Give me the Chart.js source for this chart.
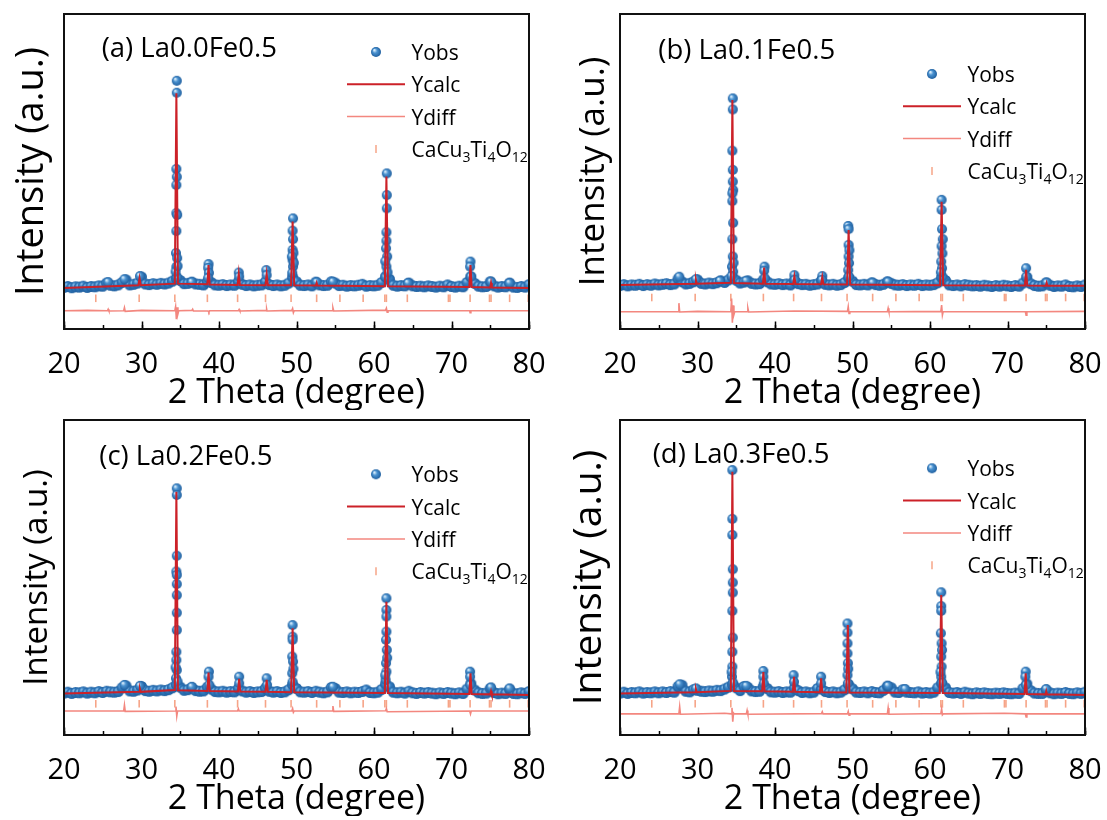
<!DOCTYPE html>
<html>
<head>
<meta charset="utf-8">
<script src="https://cdn.jsdelivr.net/npm/chart.js@4.4.0/dist/chart.umd.min.js"></script>
<style>
  body { margin: 0; background: #fff; width: 1107px; height: 820px; position: relative; overflow: hidden; }
  canvas { position: absolute; }
</style>
</head>
<body>
<canvas id="pa" width="553" height="410" style="left:0;top:0"></canvas>
<canvas id="pb" width="554" height="410" style="left:553px;top:0"></canvas>
<canvas id="pc" width="553" height="410" style="left:0;top:406px"></canvas>
<canvas id="pd" width="554" height="410" style="left:553px;top:406px"></canvas>
<script>
// 2-theta sampling grid of the background points (0.5 deg steps, 20..80)
const baseAngles = [];
for (let i = 0; i <= 120; i++) baseAngles.push(20 + i * 0.5);

// CaCu3Ti4O12 reflection positions (2 theta)
const braggPos = [24.1, 29.7, 34.3, 38.5, 42.4, 46.0, 49.3, 52.6, 55.6, 58.6, 61.4, 61.6,
                  64.3, 69.6, 69.8, 72.4, 74.9, 75.1, 77.5, 79.9];

// ---- (a) La0.0Fe0.5 ----
const obsBaseA = [
  13.2, 13.5, 13.1, 13.4, 13.3, 13.6, 13.2, 13.5, 13.4, 13.7,
  13.6, 14.6, 13.9, 13.7, 14.0, 14.8, 15.6, 14.0, 14.2, 14.6,
  16.5, 14.3, 14.1, 14.4, 14.2, 14.5, 14.3, 14.6, 15.2, 16.0,
  15.4, 14.4, 14.5, 14.9, 14.3, 14.2, 14.0, 15.0, 14.8, 14.0,
  13.9, 14.1, 13.8, 14.0, 13.9, 15.0, 14.2, 13.8, 14.0, 13.7,
  13.9, 14.0, 15.0, 14.1, 13.8, 14.0, 13.7, 13.9, 14.6, 16.5,
  15.0, 13.9, 13.8, 14.0, 13.7, 14.9, 14.0, 13.8, 13.9, 15.0,
  14.6, 13.8, 13.9, 13.6, 13.8, 13.7, 13.9, 14.2, 13.6, 13.8,
  13.7, 13.9, 14.8, 16.6, 15.8, 13.9, 13.6, 13.8, 13.7, 14.6,
  13.7, 13.5, 13.6, 13.4, 13.7, 13.5, 13.3, 13.6, 13.4, 14.0,
  13.5, 13.3, 13.6, 13.4, 14.8, 16.6, 14.5, 13.6, 13.4, 13.5,
  15.0, 13.7, 13.3, 13.5, 13.4, 14.6, 13.3, 13.2, 13.5, 13.3,
  14.1
];
const obsPeakA = [
  [34.55, 78.8], [34.55, 75.0], [34.5, 50.8], [34.55, 48.3], [34.5, 45.7], [34.5, 36.8],
  [34.6, 36.2], [34.5, 31.1], [34.45, 24.1], [34.6, 22.5], [34.5, 19.7], [34.6, 16.5],
  [34.4, 18.2], [34.65, 20.0],
  [38.65, 20.6], [38.6, 19.4], [38.7, 17.8], [38.6, 16.2],
  [42.55, 17.9], [42.6, 16.6],
  [46.1, 18.7], [46.15, 17.1],
  [49.55, 35.1], [49.5, 31.2], [49.55, 28.5], [49.5, 25.1], [49.6, 24.1], [49.5, 21.9],
  [49.55, 19.8], [49.45, 17.8], [49.4, 23.0], [49.65, 21.0],
  [61.65, 49.4], [61.65, 42.5], [61.65, 38.3], [61.6, 30.7], [61.6, 28.0], [61.55, 25.6],
  [61.7, 23.0], [61.6, 19.8], [61.5, 16.6], [61.45, 21.5], [61.75, 18.0],
  [72.45, 21.4], [72.4, 19.8], [72.5, 16.6],
  [27.8, 15.8], [29.8, 16.8], [25.7, 14.9], [36.5, 14.9], [52.6, 14.9], [54.7, 15.0],
  [64.4, 14.6], [75.1, 15.0], [77.5, 14.6]
];
const calcA = [
  [20, 13.0], [29.6, 13.9], [29.75, 16.1], [29.9, 13.9], [34.3, 14.4], [34.5, 74.8], [34.7, 14.4],
  [38.5, 14.2], [38.65, 20.3], [38.8, 14.1], [42.4, 14.0], [42.55, 17.6], [42.7, 14.0],
  [46.0, 13.9], [46.15, 17.4], [46.3, 13.9], [49.3, 13.9], [49.5, 34.1], [49.7, 13.9],
  [52.5, 13.8], [52.6, 14.6], [52.7, 13.8], [61.4, 13.6], [61.6, 48.4], [61.8, 13.6],
  [72.3, 13.3], [72.45, 20.3], [72.6, 13.3], [75.0, 13.2], [75.1, 14.6], [75.2, 13.2], [80, 13.0]
];
const diffA = [
  [20, 5.8], [23, 5.9], [25.6, 5.8], [25.7, 6.3], [25.8, 5.7], [27.7, 5.8], [27.8, 6.8], [27.9, 5.6],
  [30, 5.9], [34.3, 5.8], [34.4, 7.1], [34.5, 3.1], [34.6, 6.9], [34.7, 4.8], [34.8, 5.8],
  [36.5, 5.9], [36.6, 6.3], [36.7, 5.7], [38.6, 5.7], [38.7, 5.3], [38.8, 5.8],
  [42.5, 5.8], [42.6, 6.2], [42.7, 5.7], [46.1, 5.9], [46.15, 6.3], [46.2, 5.7],
  [49.4, 5.9], [49.5, 6.5], [49.6, 5.2], [49.7, 5.8], [54.6, 5.8], [54.7, 6.7], [54.8, 5.7],
  [61.5, 6.0], [61.6, 6.6], [61.7, 5.3], [61.8, 5.8], [72.35, 5.8], [72.4, 5.2], [72.5, 5.8], [80, 5.8]
];

// ---- (b) La0.1Fe0.5 ----
const obsBaseB = [
  13.8, 14.1, 13.7, 14.0, 13.9, 14.2, 13.8, 14.1, 13.9, 14.3,
  14.0, 14.2, 14.4, 14.1, 14.3, 15.9, 15.0, 14.3, 14.5, 15.0,
  15.6, 14.5, 14.3, 14.6, 14.4, 14.7, 15.3, 14.8, 15.6, 16.5,
  15.5, 14.6, 14.9, 15.3, 14.5, 14.3, 14.4, 15.6, 15.0, 14.3,
  14.2, 14.4, 14.1, 14.3, 14.0, 15.4, 14.4, 14.1, 14.2, 13.9,
  14.1, 14.3, 15.4, 14.2, 14.0, 14.2, 13.9, 14.1, 14.8, 16.3,
  15.2, 14.1, 14.0, 14.2, 14.0, 14.7, 14.1, 13.9, 14.2, 15.0,
  14.5, 14.0, 13.9, 14.1, 13.8, 14.0, 13.9, 14.2, 13.8, 14.0,
  13.9, 14.1, 14.7, 16.4, 15.4, 14.0, 13.8, 14.0, 13.7, 14.1,
  13.9, 13.7, 13.8, 13.6, 13.9, 13.7, 13.5, 13.8, 13.6, 13.9,
  13.7, 13.5, 13.8, 13.6, 14.6, 16.4, 14.4, 13.8, 13.6, 13.7,
  14.7, 13.9, 13.5, 13.7, 13.6, 14.0, 13.5, 13.4, 13.7, 13.5,
  14.0
];
const obsPeakB = [
  [34.55, 73.2], [34.55, 69.7], [34.5, 56.6], [34.55, 50.5], [34.55, 46.8], [34.6, 44.1],
  [34.5, 43.1], [34.5, 40.6], [34.6, 33.7], [34.5, 28.5], [34.55, 23.0], [34.45, 19.8], [34.6, 18.2],
  [34.4, 16.8], [34.65, 21.0],
  [38.65, 19.8], [38.6, 18.5], [38.7, 16.1],
  [42.5, 17.1], [42.55, 15.6],
  [46.1, 16.8], [46.05, 15.6],
  [49.45, 32.7], [49.5, 31.7], [49.5, 26.7], [49.5, 23.0], [49.55, 20.9], [49.45, 18.7], [49.55, 16.6],
  [49.6, 25.0],
  [61.5, 41.0], [61.5, 37.8], [61.55, 31.7], [61.5, 26.3], [61.6, 24.0], [61.45, 21.4],
  [61.55, 19.3], [61.6, 16.6], [61.65, 28.5], [61.4, 18.0],
  [72.4, 19.3], [72.45, 16.6],
  [27.65, 16.6], [29.8, 15.8], [32.9, 15.3], [36.3, 15.3], [52.6, 14.7], [54.6, 15.0], [75.05, 14.7]
];
const calcB = [
  [20, 14.0], [29.7, 14.4], [29.8, 15.6], [29.9, 14.4], [34.3, 14.7], [34.5, 72.7], [34.7, 14.6],
  [38.45, 14.4], [38.6, 19.5], [38.75, 14.4], [42.35, 14.3], [42.5, 16.7], [42.65, 14.3],
  [45.95, 14.2], [46.1, 16.5], [46.25, 14.2], [49.3, 14.1], [49.5, 31.4], [49.7, 14.1],
  [61.3, 13.9], [61.5, 40.4], [61.7, 13.9], [72.25, 13.8], [72.4, 18.8], [72.55, 13.8],
  [74.95, 13.7], [75.05, 14.6], [75.15, 13.7], [80, 13.7]
];
const diffB = [
  [20, 5.5], [27.5, 5.5], [27.6, 8.2], [27.7, 5.4], [30, 5.6], [34.3, 5.5], [34.4, 9.7], [34.5, 2.0],
  [34.6, 7.5], [34.7, 4.6], [34.8, 5.5], [36.4, 5.5], [36.5, 6.6], [36.6, 5.4], [42.5, 5.7],
  [49.35, 5.6], [49.45, 7.1], [49.55, 4.9], [49.65, 5.5], [54.5, 5.5], [54.6, 6.6], [54.7, 5.5],
  [61.4, 5.6], [61.5, 7.6], [61.6, 4.4], [61.7, 5.5], [72.3, 5.5], [72.4, 4.4], [72.5, 5.5], [80, 5.6]
];

// ---- (c) La0.2Fe0.5 ----
const obsBaseC = [
  13.3, 13.6, 13.2, 13.5, 13.4, 13.7, 13.3, 13.6, 13.4, 13.8,
  13.5, 13.9, 13.7, 13.6, 13.8, 15.0, 15.6, 14.0, 13.9, 14.3,
  15.4, 14.1, 13.9, 14.2, 14.0, 14.3, 14.1, 14.4, 15.0, 16.0,
  15.2, 14.2, 14.4, 15.0, 14.1, 13.9, 14.0, 15.2, 14.6, 13.8,
  13.7, 13.9, 13.6, 13.8, 13.7, 14.8, 14.0, 13.6, 13.8, 13.5,
  13.7, 13.8, 14.9, 13.9, 13.6, 13.8, 13.5, 13.7, 14.4, 16.0,
  14.8, 13.7, 13.6, 13.8, 13.5, 13.9, 13.6, 13.4, 13.7, 15.1,
  14.8, 13.6, 13.5, 13.7, 13.4, 13.6, 13.5, 13.8, 14.3, 13.5,
  13.4, 13.6, 14.5, 16.2, 15.3, 13.6, 13.4, 13.6, 13.3, 13.9,
  13.4, 13.2, 13.5, 13.3, 13.5, 13.3, 13.1, 13.4, 13.2, 13.5,
  13.3, 13.1, 13.4, 13.2, 14.6, 16.3, 14.3, 13.4, 13.2, 13.3,
  14.8, 13.5, 13.1, 13.3, 13.2, 14.5, 13.2, 13.1, 13.4, 13.2,
  13.8
];
const obsPeakC = [
  [34.55, 78.3], [34.55, 76.2], [34.55, 56.9], [34.5, 51.9], [34.55, 50.8], [34.55, 47.9],
  [34.55, 44.4], [34.55, 38.8], [34.55, 33.3], [34.5, 26.4], [34.5, 23.8], [34.55, 20.6], [34.45, 18.0],
  [34.65, 17.0], [34.4, 21.5],
  [38.7, 20.1], [38.65, 18.5], [38.75, 15.9],
  [42.6, 18.5], [42.6, 16.4],
  [46.15, 18.0], [46.2, 15.9],
  [49.5, 34.9], [49.5, 31.2], [49.5, 30.2], [49.45, 24.9], [49.55, 23.3], [49.45, 19.6], [49.5, 16.9],
  [49.6, 21.0],
  [61.6, 43.4], [61.6, 39.7], [61.6, 37.6], [61.6, 32.8], [61.55, 30.2], [61.65, 27.0],
  [61.55, 22.8], [61.6, 20.1], [61.5, 17.5], [61.7, 24.5], [61.45, 19.0],
  [72.4, 20.1], [72.4, 18.5], [72.45, 15.9],
  [27.8, 15.9], [29.8, 15.6], [36.5, 15.3], [54.7, 15.3], [75.1, 15.1], [77.5, 14.8]
];
const calcC = [
  [20, 13.2], [29.7, 13.7], [29.8, 14.6], [29.9, 13.7], [34.3, 14.3], [34.5, 77.2], [34.7, 14.2],
  [38.5, 14.0], [38.65, 19.8], [38.8, 14.0], [42.45, 13.8], [42.6, 17.8], [42.75, 13.8],
  [46.0, 13.7], [46.15, 17.5], [46.3, 13.7], [49.3, 13.6], [49.5, 33.9], [49.7, 13.6],
  [61.4, 13.3], [61.6, 42.3], [61.8, 13.3], [72.3, 13.0], [72.45, 19.6], [72.6, 13.0],
  [75.0, 12.9], [75.1, 13.9], [75.2, 12.9], [80, 12.7]
];
const diffC = [
  [20, 7.6], [27.7, 7.6], [27.8, 9.5], [27.9, 7.5], [34.35, 7.6], [34.45, 9.0], [34.55, 6.0],
  [34.65, 7.6], [42.4, 7.6], [42.5, 8.3], [42.6, 7.6], [49.4, 7.7], [49.5, 8.4], [49.6, 7.2],
  [49.7, 7.6], [54.6, 7.6], [54.7, 9.2], [54.8, 7.5], [61.5, 7.7], [61.6, 8.4], [61.7, 7.4],
  [72.35, 7.6], [72.45, 6.7], [72.55, 7.6], [80, 7.6]
];

// ---- (d) La0.3Fe0.5 ----
const obsBaseD = [
  13.3, 13.6, 13.2, 13.5, 13.4, 13.7, 13.3, 13.5, 13.4, 13.7,
  13.4, 13.7, 13.5, 13.8, 13.6, 15.4, 15.8, 13.9, 13.7, 14.4,
  14.2, 13.9, 13.8, 14.0, 13.9, 14.2, 14.1, 14.6, 15.2, 16.0,
  15.0, 14.1, 15.4, 15.1, 14.0, 13.8, 13.9, 15.4, 14.8, 13.7,
  13.6, 13.8, 13.5, 13.7, 13.6, 14.9, 14.1, 13.5, 13.7, 13.4,
  13.6, 14.8, 14.6, 13.8, 13.5, 13.7, 13.4, 13.6, 14.4, 16.0,
  14.7, 13.6, 13.5, 13.7, 13.4, 13.8, 13.5, 13.4, 14.2, 15.5,
  15.0, 13.6, 13.5, 14.4, 13.6, 13.5, 13.4, 13.7, 13.3, 13.5,
  13.3, 13.6, 15.0, 16.4, 15.0, 13.5, 13.3, 13.5, 13.2, 13.6,
  13.3, 13.1, 13.4, 13.2, 13.4, 13.2, 13.1, 13.3, 13.2, 13.4,
  13.2, 13.1, 13.3, 13.2, 14.8, 16.2, 14.1, 13.3, 13.2, 13.2,
  14.2, 13.4, 13.1, 13.3, 13.2, 13.5, 13.2, 13.1, 13.4, 13.2,
  13.6
];
const obsPeakD = [
  [34.5, 84.1], [34.5, 68.6], [34.5, 63.5], [34.55, 52.6], [34.55, 48.4], [34.55, 45.2],
  [34.5, 39.4], [34.55, 30.9], [34.5, 26.4], [34.5, 21.7], [34.45, 18.5],
  [34.6, 16.6], [34.4, 20.0],
  [38.5, 20.3], [38.5, 18.5], [38.55, 16.4],
  [42.4, 19.0], [42.45, 16.9],
  [45.95, 18.5], [45.95, 16.4],
  [49.35, 35.4], [49.35, 32.5], [49.35, 29.1], [49.35, 25.9], [49.4, 22.8], [49.35, 19.0], [49.4, 16.4],
  [49.45, 21.0],
  [61.45, 45.3], [61.45, 40.9], [61.45, 39.4], [61.4, 32.3], [61.5, 29.1], [61.45, 24.9],
  [61.5, 21.7], [61.45, 18.5], [61.55, 27.0], [61.35, 20.0], [61.55, 16.6],
  [72.35, 20.1], [72.3, 18.5], [72.4, 15.9],
  [27.7, 16.1], [36.3, 15.6], [29.8, 14.8], [54.6, 15.6], [56.8, 14.6], [75.0, 14.6]
];
const calcD = [
  [20, 13.2], [29.7, 13.6], [29.8, 14.5], [29.9, 13.6], [34.3, 14.0], [34.5, 83.6], [34.7, 14.0],
  [38.35, 13.9], [38.5, 20.0], [38.65, 13.9], [42.3, 13.7], [42.45, 18.5], [42.6, 13.7],
  [45.8, 13.6], [45.95, 18.0], [46.1, 13.6], [49.2, 13.5], [49.4, 34.9], [49.6, 13.5],
  [61.25, 13.3], [61.45, 44.4], [61.65, 13.3], [72.2, 13.0], [72.35, 19.6], [72.5, 13.0],
  [74.9, 12.9], [75.0, 13.9], [75.1, 12.9], [80, 12.7]
];
const diffD = [
  [20, 6.7], [27.6, 6.7], [27.7, 9.0], [27.8, 6.6], [33.5, 6.9], [34.35, 6.7], [34.45, 8.6],
  [34.55, 4.2], [34.65, 7.0], [34.75, 6.7], [36.3, 6.7], [36.4, 7.8], [36.5, 6.6], [46.0, 6.8],
  [46.1, 7.4], [46.2, 6.7], [49.35, 6.7], [49.45, 7.5], [49.55, 6.3], [49.65, 6.7], [54.5, 6.7],
  [54.6, 8.6], [54.7, 6.6], [61.4, 6.8], [61.5, 8.3], [61.6, 6.4], [61.7, 6.7], [69.6, 6.9],
  [72.3, 6.7], [72.4, 5.7], [72.5, 6.7], [80, 6.7]
];

const panels = [
  { id: 'pa', title: '(a) La0.0Fe0.5', base: obsBaseA, peaks: obsPeakA, calc: calcA, diff: diffA,
    braggLevel: 9.75, yTitleSize: 38, yTitlePad: 13.5, yAxisW: 64, padRight: 24,
    titleX: 37.7, titleY: 42.5, legendY: 38 },
  { id: 'pb', title: '(b) La0.1Fe0.5', base: obsBaseB, peaks: obsPeakB, calc: calcB, diff: diffB,
    braggLevel: 10.0, yTitleSize: 35, yTitlePad: 23.8, yAxisW: 67, padRight: 22,
    titleX: 38.3, titleY: 45.1, legendY: 60 },
  { id: 'pc', title: '(c) La0.2Fe0.5', base: obsBaseC, peaks: obsPeakC, calc: calcC, diff: diffC,
    braggLevel: 9.9, yTitleSize: 33, yTitlePad: 20.8, yAxisW: 64, padRight: 24,
    titleX: 35.3, titleY: 44.8, legendY: 54.3 },
  { id: 'pd', title: '(d) La0.3Fe0.5', base: obsBaseD, peaks: obsPeakD, calc: calcD, diff: diffD,
    braggLevel: 9.9, yTitleSize: 39, yTitlePad: 17.4, yAxisW: 67, padRight: 22,
    titleX: 32.7, titleY: 43.1, legendY: 48.3 }
];

const FONT = '"Open Sans", "Noto Sans", sans-serif';
const C_CALC = '#cc2128';
const C_DIFF = '#f3877f';
const C_BRAGG = '#f6a487';

// shaded ball used for the observed points
function makeBall(r, hi, mid, edge) {
  const c = document.createElement('canvas');
  c.width = c.height = Math.ceil(r * 2 + 2);
  const g = c.getContext('2d');
  const m = c.width / 2;
  const grad = g.createRadialGradient(m - r * 0.35, m - r * 0.4, r * 0.1, m, m, r);
  grad.addColorStop(0, hi);
  grad.addColorStop(0.4, mid);
  grad.addColorStop(1, edge);
  g.fillStyle = grad;
  g.beginPath();
  g.arc(m, m, r, 0, Math.PI * 2);
  g.fill();
  return c;
}
const ball = makeBall(5, '#d6ebfb', '#4a92d0', '#1f5f9f');
const bandBall = makeBall(5.5, '#86bbe8', '#3880c4', '#1f5f9f');

const pts = arr => arr.map(p => ({ x: p[0], y: p[1] }));

function line(ctx, x1, y1, x2, y2) {
  ctx.beginPath(); ctx.moveTo(x1, y1); ctx.lineTo(x2, y2); ctx.stroke();
}

// frame, inward tick marks, panel label and legend
const panelDecor = {
  id: 'panelDecor',
  afterDraw(chart, args, o) {
    const { ctx, chartArea: a } = chart;
    ctx.save();

    ctx.strokeStyle = '#000';
    ctx.lineWidth = 1.5;
    const minor = chart.scales.xMinor, major = chart.scales.x;
    minor.ticks.forEach(t => {
      const px = Math.round(minor.getPixelForValue(t.value)) + 0.5;
      line(ctx, px, a.bottom, px, a.bottom - 4);
    });
    major.ticks.forEach(t => {
      const px = Math.round(major.getPixelForValue(t.value)) + 0.5;
      line(ctx, px, a.bottom, px, a.bottom - 7.5);
    });

    ctx.strokeStyle = '#111';
    ctx.lineWidth = 2;
    ctx.strokeRect(a.left, a.top, a.right - a.left, a.bottom - a.top);

    ctx.fillStyle = '#000';
    ctx.textBaseline = 'alphabetic';
    ctx.font = '27.5px ' + FONT;
    ctx.fillText(o.title, a.left + o.titleX, a.top + o.titleY);

    const sx = a.left + 312, tx = a.left + 347.5, step = 32.3;
    let y = a.top + o.legendY;
    ctx.font = '21px ' + FONT;

    ctx.drawImage(ball, sx - ball.width / 2, y - ball.height / 2);
    ctx.fillText('Yobs', tx, y + 8);
    y += step;

    ctx.strokeStyle = C_CALC; ctx.lineWidth = 2;
    line(ctx, sx - 29, y, sx + 29, y);
    ctx.fillText('Ycalc', tx, y + 8);
    y += step;

    ctx.strokeStyle = C_DIFF; ctx.lineWidth = 1.5;
    line(ctx, sx - 29, y, sx + 29, y);
    ctx.fillText('Ydiff', tx, y + 8);
    y += step;

    ctx.strokeStyle = C_BRAGG; ctx.lineWidth = 1.5;
    line(ctx, sx, y - 4, sx, y + 4);
    // CaCu3Ti4O12 with subscripts
    const parts = [['CaCu', 0], ['3', 1], ['Ti', 0], ['4', 1], ['O', 0], ['12', 1]];
    let x = tx;
    parts.forEach(([s, sub]) => {
      ctx.font = (sub ? '14px ' : '21px ') + FONT;
      ctx.fillText(s, x, y + 8 + (sub ? 5 : 0));
      x += ctx.measureText(s).width;
    });
    ctx.restore();
  }
};

panels.forEach(p => {
  const band = p.base.map((v, i) => ({ x: baseAngles[i], y: v }));
  const bragg = braggPos.map(t => ({ x: t, y: p.braggLevel }));

  new Chart(document.getElementById(p.id), {
    type: 'scatter',
    data: {
      datasets: [
        { label: 'Yobs', data: pts(p.peaks), pointStyle: ball, pointRadius: 5, order: 4 },
        { label: 'Yobs background', data: band, pointStyle: bandBall, pointRadius: 5.5, order: 5 },
        { label: 'Ycalc', data: pts(p.calc), showLine: true, borderColor: C_CALC, borderWidth: 2,
          pointRadius: 0, order: 1 },
        { label: 'Ydiff', data: pts(p.diff), showLine: true, borderColor: C_DIFF, borderWidth: 1.6,
          pointRadius: 0, order: 2 },
        { label: 'CaCu3Ti4O12', data: bragg, pointStyle: 'line', rotation: 90, pointRadius: 3.8,
          borderColor: C_BRAGG, borderWidth: 1.6, order: 3 }
      ]
    },
    options: {
      responsive: false,
      animation: false,
      events: [],
      layout: { padding: { left: 0, right: p.padRight, top: 14, bottom: 0 } },
      plugins: {
        legend: { display: false },
        tooltip: { enabled: false },
        panelDecor: { title: p.title, titleX: p.titleX, titleY: p.titleY, legendY: p.legendY }
      },
      scales: {
        xMinor: {
          type: 'linear', position: 'bottom', weight: 0,
          min: 20, max: 80,
          ticks: { display: false, stepSize: 5 },
          grid: { display: false },
          border: { display: false },
          afterFit: s => { s.height = 0; s.paddingLeft = 0; s.paddingRight = 0; }
        },
        x: {
          type: 'linear', position: 'bottom', weight: 1,
          min: 20, max: 80,
          ticks: { stepSize: 10, color: '#000', padding: 13.5,
                   font: { family: FONT, size: 29, lineHeight: 1 } },
          grid: { display: false },
          border: { display: false },
          title: { display: true, text: '2 Theta (degree)', color: '#000',
                   font: { family: FONT, size: 34, lineHeight: 1 }, padding: { top: 0, bottom: 0 } },
          // end labels may overhang the plot edges; the layout padding handles that
          afterFit: s => { s.height = 81; s.paddingLeft = 0; s.paddingRight = 0; }
        },
        y: {
          type: 'linear', position: 'left',
          min: 0, max: 100,
          ticks: { display: false },
          grid: { display: false },
          border: { display: false },
          title: { display: true, text: 'Intensity (a.u.)', color: '#000',
                   font: { family: FONT, size: p.yTitleSize, lineHeight: 1 },
                   padding: { top: p.yTitlePad, bottom: 0 } },
          afterFit: s => { s.width = p.yAxisW; }
        }
      }
    },
    plugins: [panelDecor]
  });
});
</script>
</body>
</html>
